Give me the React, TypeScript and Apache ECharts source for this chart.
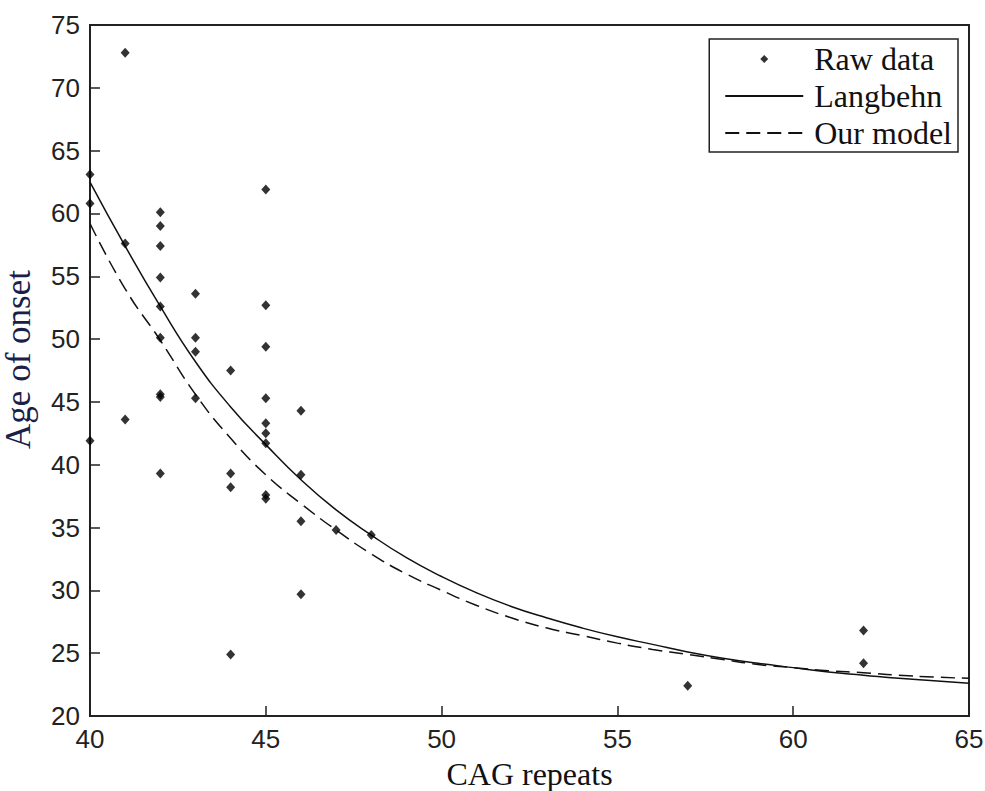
import React, { useEffect, useRef } from "react";
import * as echarts from "echarts";

const rawX = [41, 40, 40, 41, 42, 42, 42, 42, 42, 42, 43, 43, 43, 44, 45, 45, 45, 42, 42, 41, 40, 42, 43, 45, 45, 45, 45, 44, 44, 45, 45, 46, 46, 46, 46, 44, 47, 48, 57, 62, 62];
const rawY = [72.8, 63.1, 60.8, 57.6, 60.1, 59.0, 57.4, 54.9, 52.6, 50.1, 53.6, 50.1, 49.0, 47.5, 61.9, 52.7, 49.4, 45.4, 45.6, 43.6, 41.9, 39.3, 45.3, 45.3, 43.3, 42.5, 41.7, 39.3, 38.2, 37.6, 37.3, 44.3, 39.2, 35.5, 29.7, 24.9, 34.8, 34.4, 22.4, 26.8, 24.2];

const curveX = [40, 41, 42, 43, 44, 45, 46, 47, 48, 49, 50, 51, 52, 53, 54, 55, 56, 57, 58, 59, 60, 61, 62, 63, 64, 65];
const langbehnY = [62.5, 57.4, 52.6, 48.2, 44.6, 41.6, 38.8, 36.4, 34.4, 32.6, 31.1, 29.8, 28.7, 27.8, 27.0, 26.3, 25.7, 25.1, 24.6, 24.2, 23.85, 23.5, 23.25, 23.0, 22.8, 22.6];
const ourModelY = [59.2, 54.0, 49.9, 45.6, 42.1, 39.2, 36.9, 34.8, 32.9, 31.3, 30.0, 28.8, 27.8, 27.0, 26.4, 25.8, 25.3, 24.9, 24.5, 24.1, 23.85, 23.6, 23.45, 23.25, 23.1, 23.0];

const xTicks = [40, 45, 50, 55, 60, 65];
const yTicks = [20, 25, 30, 35, 40, 45, 50, 55, 60, 65, 70, 75];

export default function App() {
  const ref = useRef<HTMLDivElement>(null);
  useEffect(() => {
    if (!ref.current) return;
    const chart = echarts.init(ref.current, undefined, { renderer: "svg" });
    const axisColor = "#222";
    const labelFont = { fontFamily: "Liberation Sans", fontSize: 26, color: "#222" };
    chart.setOption({
      animation: false,
      backgroundColor: "#fff",
      grid: {
        left: 90,
        right: 16,
        top: 25,
        bottom: 75,
        outerBoundsMode: "none",
        containLabel: false,
        show: true,
        borderColor: axisColor,
        borderWidth: 2,
        backgroundColor: "transparent",
      },
      xAxis: {
        type: "value",
        min: xTicks[0],
        max: xTicks[xTicks.length - 1],
        interval: 5,
        axisLine: { show: true, onZero: false, lineStyle: { color: axisColor, width: 2 } },
        axisTick: { show: true, inside: true, length: 10, lineStyle: { color: axisColor, width: 1.5 } },
        splitLine: { show: false },
        axisLabel: { ...labelFont, margin: 10 },
        name: "CAG repeats",
        nameLocation: "middle",
        nameGap: 42,
        nameTextStyle: { fontFamily: "Liberation Serif", fontSize: 32, color: "#111" },
      },
      yAxis: {
        type: "value",
        min: yTicks[0],
        max: yTicks[yTicks.length - 1],
        interval: 5,
        axisLine: { show: true, onZero: false, lineStyle: { color: axisColor, width: 2 } },
        axisTick: { show: true, inside: true, length: 10, lineStyle: { color: axisColor, width: 1.5 } },
        splitLine: { show: false },
        axisLabel: { ...labelFont, margin: 10 },
        name: "Age of onset",
        nameLocation: "middle",
        nameGap: 54,
        nameTextStyle: { fontFamily: "Liberation Serif", fontSize: 35, color: "#1a2048", padding: [0, 0, 0, 22] },
      },
      legend: {
        orient: "vertical",
        right: 27,
        top: 39,
        align: "left",
        itemWidth: 78,
        itemHeight: 8,
        itemGap: 5,
        padding: [4, 6, 3, 15],
        borderColor: axisColor,
        borderWidth: 1.5,
        backgroundColor: "#fff",
        symbolKeepAspect: true,
        textStyle: { fontFamily: "Liberation Serif", fontSize: 32, color: "#111", padding: [0, 0, 0, 6] },
        data: [
          { name: "Raw data", icon: "path://M0,-1L1,0L0,1L-1,0Z" },
          { name: "Langbehn", itemStyle: { color: "transparent", opacity: 0, borderWidth: 0 } },
          { name: "Our model", itemStyle: { color: "transparent", opacity: 0, borderWidth: 0 } },
        ],
      },
      series: [
        {
          name: "Raw data",
          type: "scatter",
          symbol: "diamond",
          symbolSize: [9, 10],
          itemStyle: { color: "#000" },
          data: rawX.map((x, i) => [x, rawY[i]]),
          z: 5,
        },
        {
          name: "Langbehn",
          type: "line",
          smooth: true,
          showSymbol: false,
          symbol: "none",
          lineStyle: { color: "#111", width: 1.5, type: "solid" },
          itemStyle: { color: "#111" },
          data: curveX.map((x, i) => [x, langbehnY[i]]),
        },
        {
          name: "Our model",
          type: "line",
          smooth: true,
          showSymbol: false,
          symbol: "none",
          lineStyle: { color: "#111", width: 1.5, type: [14, 7] },
          itemStyle: { color: "#111" },
          data: curveX.map((x, i) => [x, ourModelY[i]]),
        },
      ],
    });
    return () => chart.dispose();
  }, []);
  return (
    <div
      ref={ref}
      style={{ position: "fixed", left: 0, top: 0, width: 985, height: 791, background: "#fff" }}
    />
  );
}
